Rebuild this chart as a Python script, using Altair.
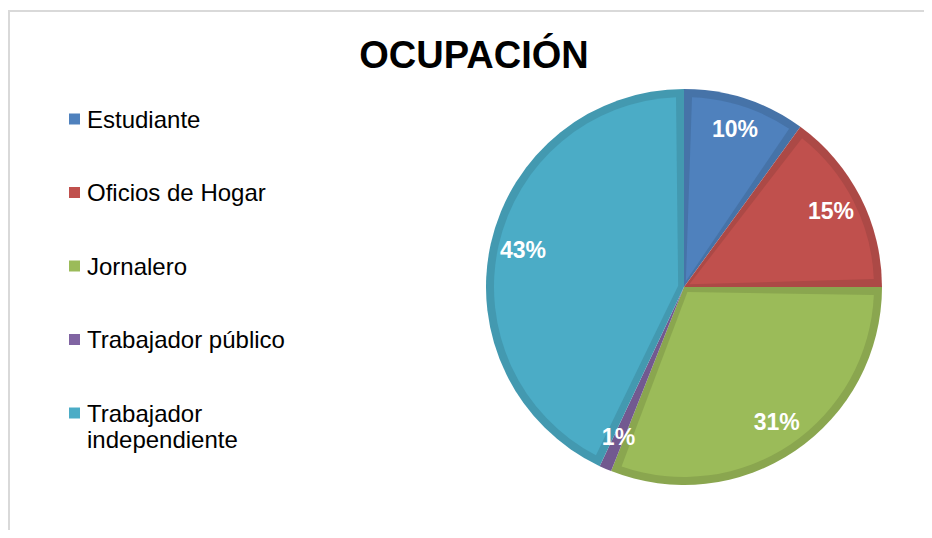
import altair as alt
import pandas as pd

# ---- data ----
categorias = ["Estudiante", "Oficios de Hogar", "Jornalero",
              "Trabajador público", "Trabajador independiente"]
porcentajes = [10, 15, 31, 1, 43]
leyenda = ["Estudiante", "Oficios de Hogar", "Jornalero",
           "Trabajador público", "Trabajador\nindependiente"]
etiquetas = ["10%", "15%", "31%", "1%", "43%"]
titulo = "OCUPACIÓN"

colores = ["#4F81BD", "#C0504D", "#9BBB59", "#8064A2", "#4BACC6"]
colores_borde = ["#4673A8", "#AC4946", "#8AA64F", "#725990", "#4399B0"]

df = pd.DataFrame({
    "cat": categorias,
    "valor": porcentajes,
    "orden": list(range(len(categorias))),
    "leyenda": leyenda,
    "texto": etiquetas,
})

W, H = 916, 522
CX, CY = 676, 279
R = 198
BAND = 8
FONT = "Liberation Sans"

base = alt.Chart(df)
theta = alt.Theta("valor:Q", stack=True)
order = alt.Order("orden:Q", sort="ascending")
col_scale = alt.Scale(domain=categorias, range=colores)
dark_scale = alt.Scale(domain=categorias, range=colores_borde)
y_scale = alt.Scale(domain=categorias, range=[111, 405], padding=0)

uno = pd.DataFrame({"k": [0]})
borde_sup = alt.Chart(uno).mark_rule(color="#D9D9D9", strokeWidth=2).encode(
    x=alt.value(0), x2=alt.value(W), y=alt.value(3)
)
borde_izq = alt.Chart(uno).mark_rule(color="#D9D9D9", strokeWidth=2).encode(
    x=alt.value(1), y=alt.value(2), y2=alt.value(H)
)

oscuro = base.mark_arc(outerRadius=R, innerRadius=0).encode(
    theta=theta, order=order,
    fill=alt.Fill("cat:N", scale=dark_scale, legend=None),
    x=alt.value(CX), y=alt.value(CY),
)

claro = base.mark_arc(outerRadius=R - BAND, innerRadius=6, padAngle=0.0842).encode(
    theta=theta, order=order,
    color=alt.Color("cat:N", scale=col_scale, legend=None),
    x=alt.value(CX), y=alt.value(CY),
)

textos = base.mark_text(
    radius=165, font=FONT, fontWeight="bold", fontSize=23, color="white"
).encode(
    theta=theta, order=order, text="texto:N",
    x=alt.value(CX), y=alt.value(CY),
)

cuadros = base.mark_square(size=121, opacity=1).encode(
    x=alt.value(66.5),
    y=alt.Y("cat:N", scale=y_scale, axis=None),
    color=alt.Color("cat:N", scale=col_scale, legend=None),
)

nombres = base.mark_text(
    align="left", baseline="alphabetic", dy=8.6, font=FONT, fontSize=24,
    lineBreak="\n", lineHeight=26, color="black"
).encode(
    x=alt.value(79),
    y=alt.Y("cat:N", scale=y_scale, axis=None),
    text="leyenda:N",
)

chart = alt.layer(borde_sup, borde_izq, oscuro, claro, textos, cuadros, nombres).properties(
    width=W, height=H,
    title=alt.Title(titulo, font=FONT, fontSize=38, fontWeight="bold",
                    color="black", anchor="middle", frame="group",
                    offset=-68, dx=8),
    autosize=alt.AutoSizeParams(type="none"),
    padding=0,
).configure_view(stroke=None)

chart.save("out.html", embed_options={"renderer": "svg", "actions": False})
